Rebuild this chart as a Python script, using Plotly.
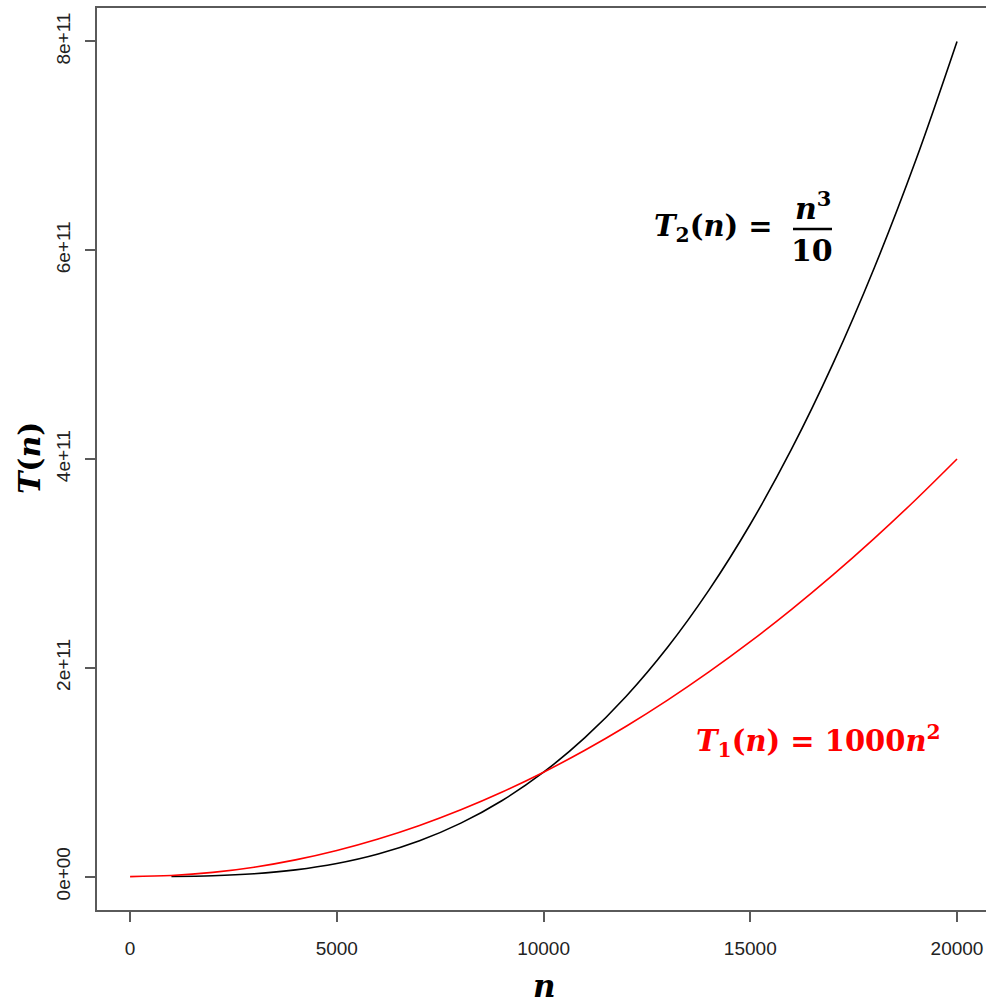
import plotly.graph_objects as go

# ---- data ----
n_red = [0, 1000, 2000, 3000, 4000, 5000, 6000, 7000, 8000, 9000, 10000,
         11000, 12000, 13000, 14000, 15000, 16000, 17000, 18000, 19000, 20000]
t1_vals = [0, 1e9, 4e9, 9e9, 1.6e10, 2.5e10, 3.6e10, 4.9e10, 6.4e10, 8.1e10, 1e11,
           1.21e11, 1.44e11, 1.69e11, 1.96e11, 2.25e11, 2.56e11, 2.89e11, 3.24e11, 3.61e11, 4e11]

n_black = [1000, 2000, 3000, 4000, 5000, 6000, 7000, 8000, 9000, 10000,
           11000, 12000, 13000, 14000, 15000, 16000, 17000, 18000, 19000, 20000]
t2_vals = [1e8, 8e8, 2.7e9, 6.4e9, 1.25e10, 2.16e10, 3.43e10, 5.12e10, 7.29e10, 1e11,
           1.331e11, 1.728e11, 2.197e11, 2.744e11, 3.375e11, 4.096e11, 4.913e11, 5.832e11, 6.859e11, 8e11]

x_ticks = [0, 5000, 10000, 15000, 20000]
x_tick_labels = ["0", "5000", "10000", "15000", "20000"]
y_ticks = [0, 2e11, 4e11, 6e11, 8e11]
y_tick_labels = ["0e+00", "2e+11", "4e+11", "6e+11", "8e+11"]

W, H = 986, 1004
ML, MR, MT, MB = 97, 0, 8, 94
PW, PH = W - ML - MR, H - MT - MB


def px(xp):
    return (xp - ML) / PW


def py(yp):
    return (H - MB - yp) / PH


SERIF = "DejaVu Serif"
AXC = "#5a5a5a"

fig = go.Figure()
fig.add_trace(go.Scatter(x=n_black, y=t2_vals, mode="lines", line=dict(color="black", width=1.6, shape="spline"),
                         showlegend=False, hoverinfo="skip"))
fig.add_trace(go.Scatter(x=n_red, y=t1_vals, mode="lines", line=dict(color="red", width=1.6, shape="spline"),
                         showlegend=False, hoverinfo="skip"))

fig.update_layout(
    width=W, height=H,
    margin=dict(l=ML, r=MR, t=MT, b=MB, pad=0),
    paper_bgcolor="white", plot_bgcolor="white",
    showlegend=False,
    xaxis=dict(range=[-800, 20701], tickvals=x_ticks, ticktext=x_tick_labels,
               showgrid=False, zeroline=False, showline=True, mirror=True,
               linecolor=AXC, linewidth=2, ticks="outside", ticklen=10, tickcolor=AXC, tickwidth=1.5,
               tickfont=dict(family="Liberation Sans", size=19, color="#222"), ticklabelstandoff=10),
    yaxis=dict(range=[-3.2e10, 8.32e11], tickvals=y_ticks, ticktext=y_tick_labels,
               showgrid=False, zeroline=False, showline=True, mirror=False,
               linecolor=AXC, linewidth=2, ticks="outside", ticklen=10, tickcolor=AXC, tickwidth=1.5,
               tickangle=-90,
               tickfont=dict(family="Liberation Sans", size=19, color="#222"), ticklabelstandoff=7),
)

ann = []
# axis titles
ann.append(dict(x=px(544), y=py(986), xref="paper", yref="paper", text="<b><i>n</i></b>",
                showarrow=False, font=dict(family=SERIF, size=31, color="black"),
                xanchor="center", yanchor="middle"))
ann.append(dict(x=px(29), y=py(458), xref="paper", yref="paper", text="<b><i>T</i>(<i>n</i>)</b>",
                showarrow=False, textangle=-90, font=dict(family=SERIF, size=30, color="black"),
                xanchor="center", yanchor="middle"))
# T2 label
ann.append(dict(x=px(785), y=py(228), xref="paper", yref="paper",
                text="<b><i>T</i><sub>2</sub>(<i>n</i>) = </b>",
                showarrow=False, font=dict(family=SERIF, size=29, color="black"),
                xanchor="right", yanchor="middle"))
ann.append(dict(x=px(813), y=py(206), xref="paper", yref="paper",
                text="<b><i>n</i><sup>3</sup></b>",
                showarrow=False, font=dict(family=SERIF, size=30, color="black"),
                xanchor="center", yanchor="middle"))
ann.append(dict(x=px(812), y=py(250), xref="paper", yref="paper",
                text="<b>10</b>",
                showarrow=False, font=dict(family=SERIF, size=30, color="black"),
                xanchor="center", yanchor="middle"))
# T1 label
ann.append(dict(x=px(694), y=py(741), xref="paper", yref="paper",
                text="<b><i>T</i><sub>1</sub>(<i>n</i>) = 1000<i>n</i><sup>2</sup></b>",
                showarrow=False, font=dict(family=SERIF, size=29, color="red"),
                xanchor="left", yanchor="middle"))
fig.update_layout(annotations=ann)

# fraction bar
fig.add_shape(type="line", xref="paper", yref="paper", x0=px(793), x1=px(832), y0=py(229), y1=py(229),
              line=dict(color="black", width=2.5))

fig.write_html("out.html", config={"displayModeBar": False},
               post_script="document.body.style.margin='0';document.body.style.overflow='hidden';")
